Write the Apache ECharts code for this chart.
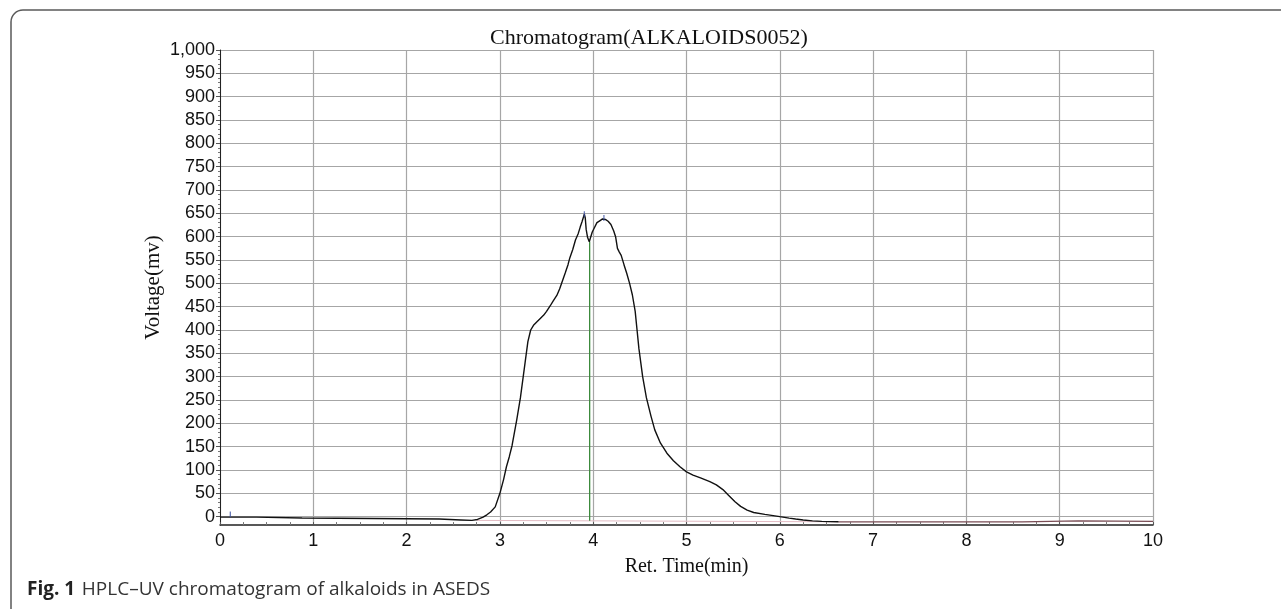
<!DOCTYPE html>
<html>
<head>
<meta charset="utf-8">
<script src="https://cdn.jsdelivr.net/npm/echarts@6/dist/echarts.min.js"></script>
<style>
html,body{margin:0;padding:0;background:#fff;}
#chart{width:1281px;height:609px;}
</style>
</head>
<body>
<div id="chart"></div>
<script>
// ---- data ----
const titleText = 'Chromatogram(ALKALOIDS0052)';
const xAxisName = 'Ret. Time(min)';
const yAxisName = 'Voltage(mv)';
const captionBold = 'Fig. 1';
const captionText = 'HPLC\u2013UV chromatogram of alkaloids in ASEDS';

const xTicks = [0, 1, 2, 3, 4, 5, 6, 7, 8, 9, 10];
const yTicks = [0, 50, 100, 150, 200, 250, 300, 350, 400, 450, 500, 550, 600, 650, 700, 750, 800, 850, 900, 950, 1000];

// chromatogram trace: retention time (min) and voltage (mV)
const traceTime = [0.00, 0.10, 0.39, 0.40, 0.88, 0.90, 1.65, 1.66, 2.35, 2.36, 2.58, 2.59, 2.595, 2.60, 2.70, 2.76, 2.82, 2.86, 2.90, 2.95,
  3.00, 3.04, 3.07, 3.10, 3.13, 3.18, 3.22, 3.27, 3.30, 3.33, 3.36, 3.40, 3.43, 3.47, 3.50, 3.54, 3.57, 3.61, 3.64, 3.67,
  3.70, 3.73, 3.75, 3.78, 3.81, 3.84, 3.86, 3.88, 3.895, 3.905, 3.915, 3.925, 3.94, 3.958, 3.97, 3.99, 4.01, 4.04, 4.07, 4.10,
  4.13, 4.16, 4.19, 4.22, 4.24, 4.26, 4.28, 4.30, 4.33, 4.36, 4.39, 4.42, 4.45, 4.47, 4.49, 4.51, 4.53, 4.57, 4.62, 4.66,
  4.72, 4.79, 4.86, 4.93, 5.00, 5.07, 5.15, 5.25, 5.32, 5.39, 5.45, 5.52, 5.58, 5.65, 5.72, 5.84, 6.00, 6.10, 6.17, 6.25,
  6.35, 6.45, 6.63];
const traceVolt = [-1, -1, -1, -3, -3, -4, -4, -5, -5, -6, -7, -8, -3, -8, -8, -6, -1, 4, 10, 21,
  50, 80, 107, 128, 152, 207, 255, 330, 375, 400, 410, 418, 424, 432, 440, 452, 462, 474, 488, 505,
  522, 540, 555, 572, 593, 607, 620, 632, 628, 648, 640, 615, 598, 589, 597, 610, 618, 630, 634, 638,
  637, 633, 626, 612, 600, 575, 567, 560, 540, 521, 500, 475, 440, 400, 360, 330, 300, 255, 215, 186,
  158, 136, 120, 107, 96, 89, 83, 75, 68, 58, 46, 32, 22, 14, 9, 5, 0, -3, -5, -7,
  -9, -10, -11];

// trailing baseline after the end of the peak
const tailTime = [6.63, 7.00, 8.00, 8.60, 8.62, 9.20, 10.00];
const tailVolt = [-11, -11, -11, -11, -9, -9, -10];

// integration baseline under the peak
const baseTime = [2.75, 6.63];
const baseVolt = [-8, -11];

// green split line at the valley between the two tops
const splitTime = [3.962, 3.962];
const splitVolt = [-9, 589];

// small peak-top and injection marks
const markTime = [3.905, 4.115];
const markVolt = [648, 640];
const injTime = [0.11, 0.11];
const injVolt = [-1, 11];

// ---- build ----
const zip = (a, b) => a.map((v, i) => [v, b[i]]);
const yMin = -18, yMax = 1000;
const pxPerUnit = 0.46667;
const plotTop = 50, plotLeft = 220, plotRight = 1281 - 1153;
const gridColor = '#a6a6a6';

const chart = echarts.init(document.getElementById('chart'), null, {renderer: 'canvas'});
chart.setOption({
  animation: false,
  backgroundColor: '#fff',
  title: {
    text: titleText,
    left: 485, top: 22,
    textStyle: {fontFamily: 'Liberation Serif', fontSize: 22, fontWeight: 'normal', color: '#111'}
  },
  grid: [
    {left: plotLeft, right: plotRight, top: plotTop, height: (yTicks[yTicks.length - 1] - yTicks[0]) * pxPerUnit},
    {left: plotLeft, right: plotRight, top: plotTop, height: (yMax - yMin) * pxPerUnit}
  ],
  xAxis: [
    {gridIndex: 0, type: 'value', min: xTicks[0], max: xTicks[xTicks.length - 1], show: false},
    {
      gridIndex: 1, type: 'value', min: xTicks[0], max: xTicks[xTicks.length - 1], interval: 1,
      name: xAxisName, nameLocation: 'middle', nameGap: 32,
      nameTextStyle: {fontFamily: 'Liberation Serif', fontSize: 20, color: '#111'},
      axisLine: {show: true, onZero: false, lineStyle: {color: '#222', width: 1.5}},
      axisTick: {show: true, inside: true, length: 3, lineStyle: {color: '#555'}},
      minorTick: {show: true, splitNumber: 4, length: 3, lineStyle: {color: '#777'}},
      axisLabel: {fontFamily: 'Liberation Sans', fontSize: 18, color: '#111', margin: 7},
      splitLine: {show: true, lineStyle: {color: gridColor, width: 1.2}}
    }
  ],
  yAxis: [
    {
      gridIndex: 0, type: 'value', min: yTicks[0], max: yTicks[yTicks.length - 1], interval: 50,
      axisLine: {show: false},
      axisTick: {show: true, length: 4, lineStyle: {color: '#555'}},
      minorTick: {show: true, splitNumber: 5, length: 2, lineStyle: {color: '#777'}},
      axisLabel: {fontFamily: 'Liberation Sans', fontSize: 18, color: '#111', margin: 5,
        formatter: v => v.toLocaleString('en-US')},
      splitLine: {show: true, lineStyle: {color: gridColor, width: 1.2}}
    },
    {
      gridIndex: 1, type: 'value', min: yMin, max: yMax,
      name: yAxisName, nameLocation: 'middle', nameGap: 56, nameRotate: 90,
      nameTextStyle: {fontFamily: 'Liberation Serif', fontSize: 21, color: '#111'},
      axisLine: {show: true, onZero: false, lineStyle: {color: '#222', width: 1}},
      axisTick: {show: false}, axisLabel: {show: false}, splitLine: {show: false}
    }
  ],
  series: [
    {type: 'line', xAxisIndex: 1, yAxisIndex: 1, data: zip(baseTime, baseVolt), showSymbol: false,
      lineStyle: {color: '#e3bcc4', width: 1}, silent: true, z: 2},
    {type: 'line', xAxisIndex: 1, yAxisIndex: 1, data: zip(splitTime, splitVolt), showSymbol: false,
      lineStyle: {color: '#3c8a3c', width: 1.3}, silent: true, z: 3},
    {type: 'line', xAxisIndex: 1, yAxisIndex: 1, data: zip(tailTime, tailVolt), showSymbol: false,
      lineStyle: {color: '#7a4d55', width: 1.2}, silent: true, z: 3},
    {type: 'line', xAxisIndex: 1, yAxisIndex: 1, data: zip(traceTime, traceVolt), showSymbol: false,
      lineStyle: {color: '#111', width: 1.4}, silent: true, z: 4},
    {type: 'line', xAxisIndex: 1, yAxisIndex: 1, data: zip(injTime, injVolt), showSymbol: false,
      lineStyle: {color: '#3a4fa0', width: 1}, silent: true, z: 5},
    {type: 'scatter', xAxisIndex: 1, yAxisIndex: 1, data: zip(markTime, markVolt), symbol: 'rect',
      symbolSize: [1.2, 6], itemStyle: {color: '#3a4fa0'}, silent: true, z: 5}
  ],
  graphic: [
    {type: 'rect', shape: {x: 11, y: 10, width: 1400, height: 800, r: 12},
      style: {fill: 'none', stroke: '#5a5a5a', lineWidth: 1.5}, silent: true},
    {type: 'text', x: 27, y: 590,
      style: {
        text: '{b|' + captionBold + '}  {n|' + captionText + '}',
        verticalAlign: 'middle',
        rich: {
          b: {fontFamily: 'Open Sans', fontWeight: 'bold', fontSize: 19, fill: '#222'},
          n: {fontFamily: 'Open Sans', fontSize: 19, fill: '#333'}
        }
      }, silent: true}
  ]
});
</script>
</body>
</html>
